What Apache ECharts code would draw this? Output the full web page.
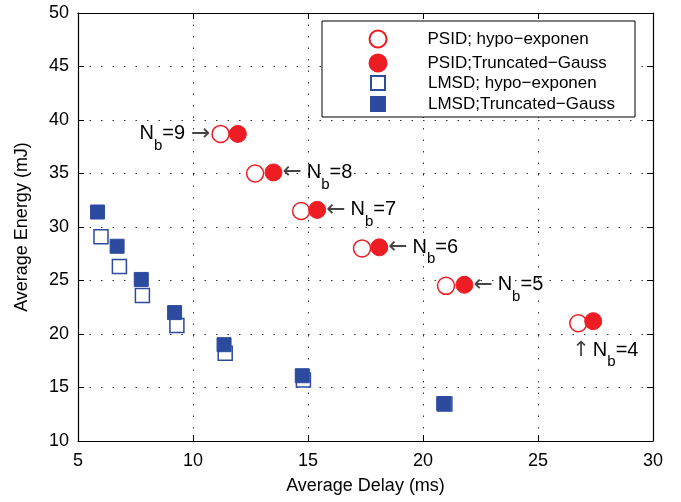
<!DOCTYPE html>
<html>
<head>
<meta charset="utf-8">
<script src="https://cdn.jsdelivr.net/npm/echarts@6/dist/echarts.min.js"></script>
<style>
  html, body { margin: 0; padding: 0; background: #fff; }
  #chart-container { width: 681px; height: 502px; }
</style>
</head>
<body>
<div id="chart-container"></div>
<script>
// N_b values, one per PSID point (left to right)
var nbValues = [9, 8, 7, 6, 5, 4];

var psidHypoDelay = [11.2, 12.7, 14.7, 17.35, 21.0, 26.75];
var psidHypoEnergy = [38.7, 35.0, 31.5, 28.0, 24.5, 21.0];
var psidTgDelay = [11.95, 13.5, 15.4, 18.1, 21.8, 27.4];
var psidTgEnergy = [38.7, 35.1, 31.6, 28.1, 24.6, 21.2];

var lmsdHypoDelay = [6.0, 6.8, 7.8, 9.3, 11.4, 14.8, 20.95];
var lmsdHypoEnergy = [29.1, 26.3, 23.6, 20.8, 18.2, 15.7, 13.45];
var lmsdTgDelay = [5.85, 6.7, 7.75, 9.2, 11.35, 14.75, 20.9];
var lmsdTgEnergy = [31.4, 28.2, 25.1, 22.0, 19.0, 16.1, 13.5];

var seriesNames = [
  "PSID; hypo\u2212exponen",
  "PSID;Truncated\u2212Gauss",
  "LMSD; hypo\u2212exponen",
  "LMSD;Truncated\u2212Gauss"
];

var font = '"Liberation Sans", Arial, Helvetica, sans-serif';
var arrowFont = '"DejaVu Sans", sans-serif';
var red = "#ee1d23";
var blue = "#2c4a9e";

var rich = {
  n: { fontSize: 20, fontFamily: font, color: "#000" },
  s: { fontSize: 15, fontFamily: font, color: "#000", padding: [24, 0, 0, 0] },
  ar: { fontSize: 23, fontFamily: arrowFont, color: "#444", padding: [0, 5, 0, 0] },
  al: { fontSize: 23, fontFamily: arrowFont, color: "#444", padding: [0, 1, 0, 6] },
  au: { fontSize: 21, fontFamily: arrowFont, color: "#444", padding: [0, 3, 0, 0] }
};

function nbText(nb) {
  return "{n|N}{s|b}{n|=" + nb + "}";
}

var psidHypoData = psidHypoDelay.map(function (d, i) {
  var item = { value: [d, psidHypoEnergy[i]] };
  if (i === 0) {
    item.label = {
      show: true, position: "left", distance: 0,
      formatter: nbText(nbValues[i]) + "{al|\u2192}", rich: rich
    };
  } else if (i === nbValues.length - 1) {
    item.label = {
      show: true, position: "bottom", align: "left", distance: -2, offset: [-6, 0],
      formatter: "{au|\u2191}" + nbText(nbValues[i]), rich: rich
    };
  }
  return item;
});

var psidTgData = psidTgDelay.map(function (d, i) {
  var item = { value: [d, psidTgEnergy[i]] };
  if (i > 0 && i < nbValues.length - 1) {
    item.label = {
      show: true, position: "right", distance: 0,
      formatter: "{ar|\u2190}" + nbText(nbValues[i]), rich: rich
    };
  }
  return item;
});

function pairs(xs, ys) {
  return xs.map(function (x, i) { return [x, ys[i]]; });
}

var dom = document.getElementById("chart-container");
var myChart = echarts.init(dom, null, { renderer: "canvas" });

var dotted = { type: [1.5, 10], color: "#333", width: 1 };
var legendText = { fontSize: 17, lineHeight: 17, fontFamily: font, color: "#000" };

var option = {
  animation: false,
  backgroundColor: "#fff",
  textStyle: { fontFamily: font },
  grid: { left: 78, right: 28, top: 13, bottom: 61 },
  graphic: [
    {
      type: "rect", z: 3,
      shape: { x: 322, y: 21, width: 313, height: 96 },
      style: { fill: "#fff", stroke: "#000", lineWidth: 1 }
    }
  ],
  legend: [
    {
      data: [
        { name: seriesNames[0] },
        { name: seriesNames[1] }
      ],
      orient: "vertical", left: 368.5, top: 29.5, padding: 0,
      itemWidth: 17, itemHeight: 17, itemGap: 5,
      textStyle: Object.assign({ padding: [0, 0, 0, 36] }, legendText)
    },
    {
      data: [
        { name: seriesNames[2], icon: "path://M0,0H10V10H0Z" },
        { name: seriesNames[3], icon: "path://M0,0H10V10H0Z" }
      ],
      orient: "vertical", left: 370, top: 74.5, padding: 0,
      itemWidth: 14, itemHeight: 14, itemGap: 4,
      textStyle: Object.assign({ padding: [0, 0, 0, 38] }, legendText)
    }
  ],
  xAxis: [
    {
      type: "value", min: 5, max: 30, interval: 5,
      name: "Average Delay (ms)", nameLocation: "middle", nameGap: 36,
      nameTextStyle: { fontSize: 18, fontFamily: font, color: "#000" },
      axisLine: { show: true, onZero: false, lineStyle: { color: "#000", width: 1.2 } },
      axisTick: { show: true, inside: true, length: 6, lineStyle: { color: "#000" } },
      axisLabel: { fontSize: 18, fontFamily: font, color: "#000", margin: 11 },
      splitLine: { show: true, lineStyle: dotted }
    },
    {
      type: "value", min: 5, max: 30, interval: 5, position: "top",
      axisLine: { show: true, onZero: false, lineStyle: { color: "#000", width: 1.2 } },
      axisTick: { show: true, inside: true, length: 6, lineStyle: { color: "#000" } },
      axisLabel: { show: false },
      splitLine: { show: false }
    }
  ],
  yAxis: [
    {
      type: "value", min: 10, max: 50, interval: 5,
      name: "Average Energy (mJ)", nameLocation: "middle", nameGap: 47,
      nameTextStyle: { fontSize: 18, fontFamily: font, color: "#000" },
      axisLine: { show: true, onZero: false, lineStyle: { color: "#000", width: 1.2 } },
      axisTick: { show: true, inside: true, length: 6, lineStyle: { color: "#000" } },
      axisLabel: { fontSize: 18, fontFamily: font, color: "#000", margin: 9 },
      splitLine: { show: true, lineStyle: dotted }
    },
    {
      type: "value", min: 10, max: 50, interval: 5, position: "right",
      axisLine: { show: true, onZero: false, lineStyle: { color: "#000", width: 1.2 } },
      axisTick: { show: true, inside: true, length: 6, lineStyle: { color: "#000" } },
      axisLabel: { show: false },
      splitLine: { show: false }
    }
  ],
  series: [
    {
      name: seriesNames[0], type: "scatter", symbol: "circle", symbolSize: 17,
      itemStyle: { color: "#fff", borderColor: red, borderWidth: 1.5, opacity: 1 },
      emphasis: { disabled: true },
      data: psidHypoData
    },
    {
      name: seriesNames[1], type: "scatter", symbol: "circle", symbolSize: 17,
      itemStyle: { color: red, borderColor: red, borderWidth: 1, opacity: 1 },
      emphasis: { disabled: true },
      data: psidTgData
    },
    {
      name: seriesNames[2], type: "scatter", symbol: "rect", symbolSize: 14,
      itemStyle: { color: "#fff", borderColor: blue, borderWidth: 1.5, opacity: 1 },
      emphasis: { disabled: true },
      data: pairs(lmsdHypoDelay, lmsdHypoEnergy)
    },
    {
      name: seriesNames[3], type: "scatter", symbol: "rect", symbolSize: 14,
      itemStyle: { color: blue, borderColor: blue, borderWidth: 1, opacity: 1 },
      emphasis: { disabled: true },
      data: pairs(lmsdTgDelay, lmsdTgEnergy)
    }
  ]
};

if (option && typeof option === "object") {
  myChart.setOption(option);
}

window.addEventListener("resize", myChart.resize);
</script>
</body>
</html>
